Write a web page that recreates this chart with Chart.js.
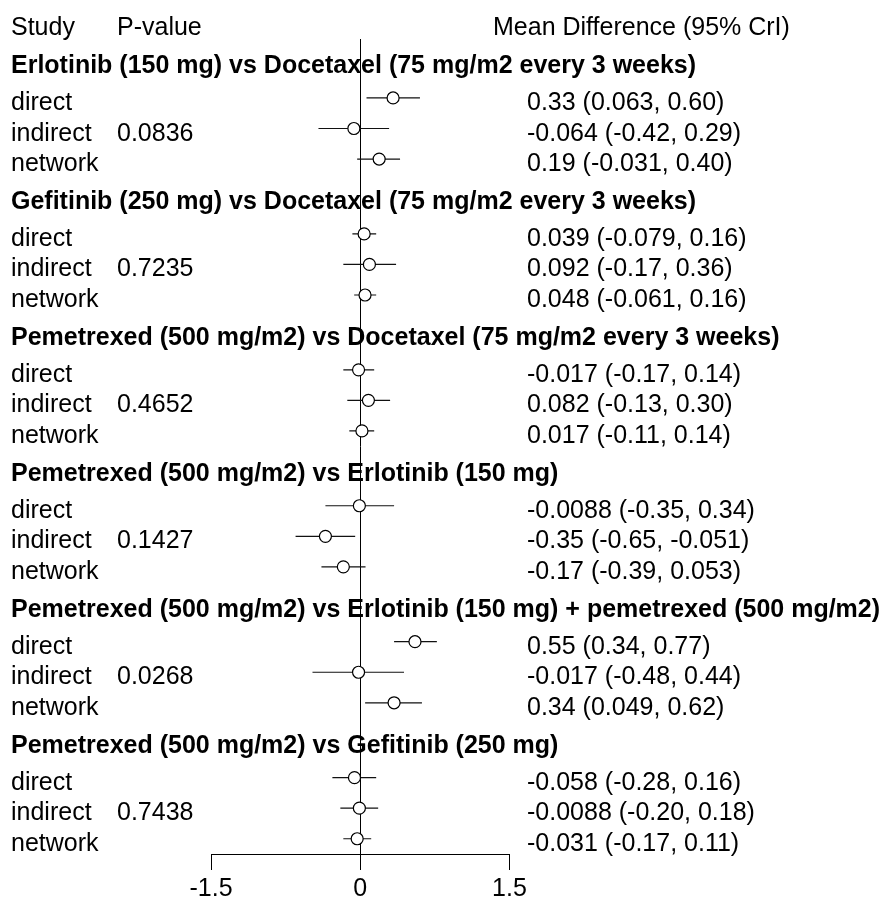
<!DOCTYPE html>
<html>
<head>
<meta charset="utf-8">
<script src="https://cdn.jsdelivr.net/npm/chart.js@4.4.1/dist/chart.umd.min.js"></script>
<style>
  html, body { margin: 0; padding: 0; background: #fff; }
  canvas { display: block; }
</style>
</head>
<body>
<canvas id="forest" width="882" height="897"></canvas>
<script>
const comparisons = [
    "Erlotinib (150 mg) vs Docetaxel (75 mg/m2 every 3 weeks)",
    "Gefitinib (250 mg) vs Docetaxel (75 mg/m2 every 3 weeks)",
    "Pemetrexed (500 mg/m2) vs Docetaxel (75 mg/m2 every 3 weeks)",
    "Pemetrexed (500 mg/m2) vs Erlotinib (150 mg)",
    "Pemetrexed (500 mg/m2) vs Erlotinib (150 mg) + pemetrexed (500 mg/m2)",
    "Pemetrexed (500 mg/m2) vs Gefitinib (250 mg)"
];
const pValues = ["0.0836", "0.7235", "0.4652", "0.1427", "0.0268", "0.7438"];
const studies = ["direct", "indirect", "network"];

// one entry per study line, grouped by comparison (direct, indirect, network)
const means = [0.33, -0.064, 0.19,  0.039, 0.092, 0.048,  -0.017, 0.082, 0.017,
               -0.0088, -0.35, -0.17,  0.55, -0.017, 0.34,  -0.058, -0.0088, -0.031];
const lowers = [0.063, -0.42, -0.031,  -0.079, -0.17, -0.061,  -0.17, -0.13, -0.11,
                -0.35, -0.65, -0.39,  0.34, -0.48, 0.049,  -0.28, -0.20, -0.17];
const uppers = [0.60, 0.29, 0.40,  0.16, 0.36, 0.16,  0.14, 0.30, 0.14,
                0.34, -0.051, 0.053,  0.77, 0.44, 0.62,  0.16, 0.18, 0.11];

const xTicks = [-1.5, 0, 1.5];

const FONT = '"Liberation Sans", Arial, Helvetica, sans-serif';
const FONT_SIZE = 25;
const GROUP_STEP = 4.45;   // rows taken by one comparison block (header + 3 lines)
const HEADER_OFFSET = -1.08;

function rowPos(g, k) {
    return g * GROUP_STEP + k;
}

const fmt = v => Number(v).toPrecision(2);

const rows = [];
comparisons.forEach((c, g) => {
    studies.forEach((s, k) => {
        const i = g * 3 + k;
        rows.push({ g, k, y: rowPos(g, k), mean: means[i], lo: lowers[i], hi: uppers[i] });
    });
});

// text columns drawn next to the plot
const textPlugin = {
    id: "forestText",
    afterDraw(chart) {
        const ctx = chart.ctx;
        const ys = chart.scales.y;
        const top = chart.chartArea.top;
        ctx.save();
        ctx.fillStyle = "#000";
        ctx.textBaseline = "alphabetic";
        ctx.textAlign = "left";

        ctx.font = FONT_SIZE + "px " + FONT;
        ctx.fillText("Study", 11, top - 4);
        ctx.fillText("P-value", 117, top - 4);
        ctx.fillText("Mean Difference (95% CrI)", 493, top - 4);

        comparisons.forEach((c, g) => {
            ctx.font = "bold " + FONT_SIZE + "px " + FONT;
            ctx.fillText(c, 11, ys.getPixelForValue(rowPos(g, HEADER_OFFSET)) + 8.5);
        });

        ctx.font = FONT_SIZE + "px " + FONT;
        rows.forEach(r => {
            const py = ys.getPixelForValue(r.y) + 12;
            ctx.fillText(studies[r.k], 11, py);
            if (r.k === 1) ctx.fillText(pValues[r.g], 117, py);
            ctx.fillText(fmt(r.mean) + " (" + fmt(r.lo) + ", " + fmt(r.hi) + ")", 527, py);
        });
        ctx.restore();
    }
};

const datasets = [{
    label: "estimate",
    data: rows.map(r => ({ x: r.mean, y: r.y })),
    pointStyle: "circle",
    pointRadius: 6,
    pointBackgroundColor: "#fff",
    pointBorderColor: "#000",
    pointBorderWidth: 1.2,
    showLine: false
}];

rows.forEach(r => {
    datasets.push({
        label: "ci",
        data: [{ x: r.lo, y: r.y }, { x: r.hi, y: r.y }],
        showLine: true,
        borderColor: "#111",
        borderWidth: 1.2,
        pointRadius: 0
    });
});

new Chart(document.getElementById("forest"), {
    type: "scatter",
    data: { datasets: datasets },
    options: {
        responsive: false,
        animation: false,
        layout: { padding: { left: 211, right: 372.5, top: 39, bottom: 0 } },
        plugins: {
            legend: { display: false },
            tooltip: { enabled: false }
        },
        scales: {
            x: {
                type: "linear",
                position: "bottom",
                min: -1.5,
                max: 1.5,
                z: 1,
                afterBuildTicks: axis => { axis.ticks = xTicks.map(v => ({ value: v })); },
                afterFit: axis => { axis.height = 43; },
                grid: {
                    color: c => (c.tick && c.tick.value === 0) ? "#000" : "rgba(0,0,0,0)",
                    tickColor: "#000",
                    tickLength: 16,
                    lineWidth: 1
                },
                border: { display: true, color: "#000", width: 1 },
                ticks: {
                    color: "#000",
                    padding: 9,
                    font: { family: FONT, size: FONT_SIZE, lineHeight: 0.8 },
                    callback: v => String(v)
                }
            },
            y: {
                type: "linear",
                display: false,
                reverse: true,
                min: -1.93,
                max: 24.75
            }
        }
    },
    plugins: [textPlugin]
});
</script>
</body>
</html>
